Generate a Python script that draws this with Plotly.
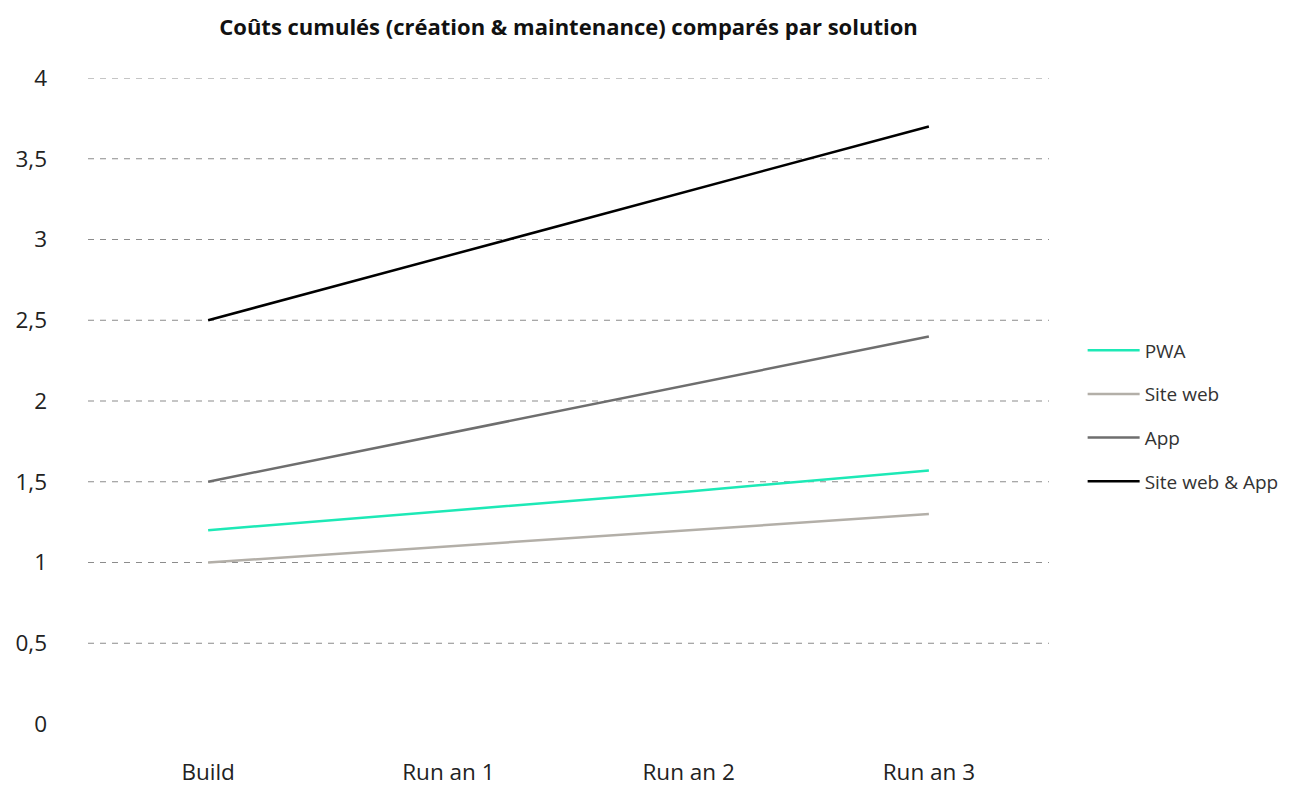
import plotly.graph_objects as go

categories = ["Build", "Run an 1", "Run an 2", "Run an 3"]
series_names = ["PWA", "Site web", "App", "Site web & App"]
pwa = [1.2, 1.32, 1.44, 1.57]
site_web = [1.0, 1.1, 1.2, 1.3]
app = [1.5, 1.8, 2.1, 2.4]
site_web_app = [2.5, 2.9, 3.3, 3.7]
y_ticks = [0, 0.5, 1, 1.5, 2, 2.5, 3, 3.5, 4]
y_tick_labels = ["0", "0,5", "1", "1,5", "2", "2,5", "3", "3,5", "4"]
colors = ["#1de9b6", "#b3afa8", "#6e6e6e", "#000000"]

FONT = "Open Sans"
fig = go.Figure()
for i, (name, vals) in enumerate(zip(series_names, [pwa, site_web, app, site_web_app])):
    fig.add_trace(go.Scatter(
        x=categories, y=vals, name=name, mode="lines",
        line=dict(color=colors[i], width=2.5),
        legendgroup=name,
    ))

# dashed gridlines (none at zero)
for v in y_ticks:
    if v == 0:
        continue
    fig.add_shape(type="line", xref="paper", yref="y", x0=0, x1=1, y0=v, y1=v,
                  line=dict(color="#8c8c8c", width=1.2, dash="6px,6px"), layer="below")

fig.update_layout(
    width=1305, height=790,
    paper_bgcolor="white", plot_bgcolor="white",
    margin=dict(l=88, r=256, t=78, b=66),
    font=dict(family=FONT, color="#222222", size=18),
    title=dict(text="<b>Coûts cumulés (création & maintenance) comparés par solution</b>",
               x=0.5, xref="paper", y=1 - 27 / 790, yanchor="middle",
               font=dict(family=FONT, size=22, color="#111111")),
    xaxis=dict(type="category", range=[-0.5, 3.5], showgrid=False, zeroline=False,
               showline=False, ticks="", ticklabelstandoff=32, automargin=False,
               tickfont=dict(size=22.5)),
    yaxis=dict(range=[0, 4], tickvals=y_ticks, ticktext=y_tick_labels,
               showgrid=False, zeroline=False, showline=False, ticks="",
               ticklabelstandoff=40, automargin=False, tickfont=dict(size=22.5)),
    legend=dict(x=1.035, xanchor="left", y=0.477, yanchor="middle",
                font=dict(size=19, color="#333333"), tracegroupgap=16,
                itemwidth=52, bgcolor="rgba(0,0,0,0)"),
    showlegend=True,
)

fig.write_html("out.html")
